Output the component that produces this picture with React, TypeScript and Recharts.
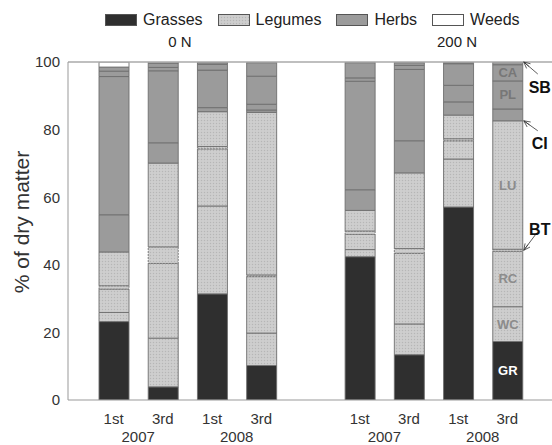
import { BarChart, Bar, XAxis, YAxis, Legend, ReferenceLine, LabelList } from 'recharts';

// bar slots: 0 N plots, an empty gap, then 200 N plots
const slots = ['0N-07-1', '0N-07-3', '0N-08-1', '0N-08-3', 'gap', '200N-07-1', '200N-07-3', '200N-08-1', '200N-08-3'];
const cuts = ['1st', '3rd', '1st', '3rd', '', '1st', '3rd', '1st', '3rd'];
const years = ['2007', '2007', '2008', '2008', '', '2007', '2007', '2008', '2008'];
const groupLabels = ['0 N', '200 N'];

// % of dry matter per species, bottom to top
const gr = [23.2, 3.9, 31.4, 10.2, null, 42.4, 13.4, 57.1, 17.3];
const wc = [2.7, 14.4, 26.0, 9.6, null, 2.1, 9.1, 14.2, 10.3];
const rc = [6.9, 22.1, 16.9, 16.7, null, 4.5, 20.9, 5.4, 16.4];
const bt = [1.0, 4.9, 0.7, 0.5, null, 1.0, 1.4, 0.6, 0.6];
const lu = [10.0, 24.8, 10.3, 48.1, null, 6.1, 22.4, 7.0, 38.0];
const ci = [11.0, 6.0, 1.2, 0.7, null, 6.1, 9.5, 3.9, 3.5];
const pl = [40.9, 21.3, 11.1, 1.7, null, 32.1, 21.1, 4.9, 8.3];
const ca = [1.6, 1.0, 1.7, 8.3, null, 1.0, 1.2, 6.4, 4.8];
const sb = [1.2, 1.3, 0.5, 4.0, null, 4.5, 0.8, 0.3, 0.8];
const weeds = [1.5, 0.3, 0.2, 0.2, null, 0.2, 0.2, 0.2, 0];

const legendNames = ['Grasses', 'Legumes', 'Herbs', 'Weeds'];

const FONT = '"Liberation Sans", Arial, sans-serif';
const W = 552;
const H = 445;
const Y_W = 68;
const PAD_L = 21;
const PAD_R = 20;
const STEP = (W - Y_W - PAD_L - PAD_R) / slots.length;
const LAST = slots.length - 1;

const fills = {
  Grasses: '#2f2f2f',
  Legumes: 'url(#legDots)',
  Herbs: '#9b9b9b',
  Weeds: '#ffffff',
};

const series = [
  { key: 'GR', values: gr, group: 'Grasses', tag: 'GR', tagColor: '#ffffff' },
  { key: 'WC', values: wc, group: 'Legumes', tag: 'WC', tagColor: '#8c8c8c' },
  { key: 'RC', values: rc, group: 'Legumes', tag: 'RC', tagColor: '#8c8c8c' },
  { key: 'BT', values: bt, group: 'Legumes', note: 'BT' },
  { key: 'LU', values: lu, group: 'Legumes', tag: 'LU', tagColor: '#8c8c8c' },
  { key: 'CI', values: ci, group: 'Herbs', note: 'CI' },
  { key: 'PL', values: pl, group: 'Herbs', tag: 'PL', tagColor: '#777777' },
  { key: 'CA', values: ca, group: 'Herbs', tag: 'CA', tagColor: '#777777' },
  { key: 'SB', values: sb, group: 'Herbs', note: 'SB' },
  { key: 'Weeds', values: weeds, group: 'Weeds' },
];

// species codes are written only on the last bar
const data = slots.map((id, i) => {
  const row: any = { id, cut: cuts[i], year: years[i] };
  series.forEach((s) => {
    row[s.key] = s.values[i];
    row[s.key + '_txt'] = i === LAST ? (s.tag || s.note || null) : null;
  });
  return row;
});

function box(props: any) {
  const vb = props.viewBox && props.viewBox.width !== undefined ? props.viewBox : props;
  return { x: Number(vb.x), y: Number(vb.y), w: Number(vb.width), h: Number(vb.height) };
}

function segmentTag(color: string) {
  return (props: any) => {
    if (!props.value) return null;
    const { x, y, w, h } = box(props);
    return (
      <text x={x + w / 2} y={y + h / 2} textAnchor="middle" dominantBaseline="central"
        fill={color} fontSize={13} fontWeight="bold" fontFamily={FONT}>
        {props.value}
      </text>
    );
  };
}

// arrow from the text to the right edge of the last bar
function sideNote(props: any) {
  const text = props.value;
  if (!text) return null;
  const { x, y, w, h } = box(props);
  let tip: [number, number];
  let tail: [number, number];
  let ty: number;
  if (text === 'SB') {
    tip = [x + w + 1, y];
    tail = [tip[0] + 14, tip[1] + 12];
    ty = tip[1] + 25;
  } else if (text === 'CI') {
    tip = [x + w + 1, y + h];
    tail = [tip[0] + 14, tip[1] + 10];
    ty = tip[1] + 23;
  } else {
    tip = [x + w + 1, y + h / 2];
    tail = [tip[0] + 12, tip[1] - 16];
    ty = tip[1] - 21;
  }
  const ang = Math.atan2(tail[1] - tip[1], tail[0] - tip[0]);
  const head = [-0.45, 0, 0.45].map((d) => [
    tip[0] + 7 * Math.cos(ang + d),
    tip[1] + 7 * Math.sin(ang + d),
  ]);
  return (
    <g stroke="#333" strokeWidth={0.8}>
      <line x1={tip[0]} y1={tip[1]} x2={tail[0]} y2={tail[1]} />
      {head.map(([hx, hy], k) => (
        <line key={k} x1={tip[0]} y1={tip[1]} x2={hx} y2={hy} />
      ))}
      <text x={tip[0] + 16} y={ty} textAnchor="middle" dominantBaseline="central"
        stroke="none" fill="#111" fontSize={16} fontWeight="bold" fontFamily={FONT}>
        {text}
      </text>
    </g>
  );
}

function XTick(props: any) {
  const { x, y, index } = props;
  const cut = cuts[index];
  if (!cut) return null;
  return (
    <g fontFamily={FONT} fontSize={15} fill="#333">
      <text x={x} y={y + 24} textAnchor="middle">{cut}</text>
      {cut === '1st' && (
        <text x={x + STEP / 2} y={y + 42} textAnchor="middle">{years[index]}</text>
      )}
    </g>
  );
}

function YLabel(props: any) {
  const vb = props.viewBox || { y: 62, height: 338 };
  const cy = vb.y + vb.height / 2 - 9;
  return (
    <text x={21} y={cy} transform={`rotate(-90, 21, ${cy})`} textAnchor="middle"
      dominantBaseline="central" fontSize={21} fill="#333" fontFamily={FONT}>
      % of dry matter
    </text>
  );
}

function Swatch({ name }: { name: string }) {
  return (
    <svg width={32} height={12} style={{ display: 'block' }}>
      <rect x={0.5} y={0.5} width={31} height={11} fill={(fills as any)[name]} stroke="#555" />
    </svg>
  );
}

function TopLegend() {
  return (
    <div style={{ position: 'relative', width: W, height: 62, fontFamily: FONT, color: '#222' }}>
      <div style={{ position: 'absolute', left: 105, top: 11, display: 'flex', alignItems: 'center', fontSize: 16 }}>
        {legendNames.map((n) => (
          <div key={n} style={{ display: 'flex', alignItems: 'center', marginRight: 15 }}>
            <Swatch name={n} />
            <span style={{ marginLeft: 6 }}>{n}</span>
          </div>
        ))}
      </div>
      {groupLabels.map((g, i) => (
        <div key={g} style={{
          position: 'absolute', top: 33, left: i === 0 ? 180 : 457,
          transform: 'translateX(-50%)', fontSize: 15, whiteSpace: 'nowrap',
        }}>
          {g}
        </div>
      ))}
    </div>
  );
}

export default function App() {
  return (
    <div style={{ position: 'absolute', left: 0, top: 0, width: W, height: H, background: '#fff' }}>
      <svg width={0} height={0} style={{ position: 'absolute' }}>
        <defs>
          <pattern id="legDots" width={3} height={3} patternUnits="userSpaceOnUse">
            <rect width={3} height={3} fill="#cbcbcb" />
            <rect x={0} y={0} width={1} height={1} fill="#b6b6b6" />
            <rect x={1.5} y={1.5} width={1} height={1} fill="#dadada" />
          </pattern>
        </defs>
      </svg>
      <BarChart width={W} height={H} data={data} margin={{ top: 0, right: 0, bottom: 0, left: 0 }}>
        <Legend verticalAlign="top" align="left" content={() => <TopLegend />} />
        <XAxis dataKey="id" padding={{ left: PAD_L, right: PAD_R }} tickLine={false} tickSize={0}
          tickMargin={0} height={45} axisLine={{ stroke: '#999' }} tick={<XTick />} interval={0} />
        <YAxis width={Y_W} domain={[0, 100]} ticks={[0, 20, 40, 60, 80, 100]} tickLine={false}
          axisLine={{ stroke: '#999' }} allowDataOverflow
          tick={{ fontSize: 15, fill: '#333', fontFamily: FONT }} label={<YLabel />} />
        <ReferenceLine y={100} stroke="#aaa" strokeWidth={1.5} />
        {series.map((s) => (
          <Bar key={s.key} dataKey={s.key} stackId="s" barSize={30} isAnimationActive={false}
            fill={(fills as any)[s.group]} stroke="#6e6e6e" strokeWidth={0.9}
            strokeDasharray={s.key === 'BT' ? '2 1' : undefined}>
            {s.tag && <LabelList dataKey={s.key + '_txt'} content={segmentTag(s.tagColor as string)} />}
            {s.note && <LabelList dataKey={s.key + '_txt'} content={sideNote} />}
          </Bar>
        ))}
      </BarChart>
    </div>
  );
}
